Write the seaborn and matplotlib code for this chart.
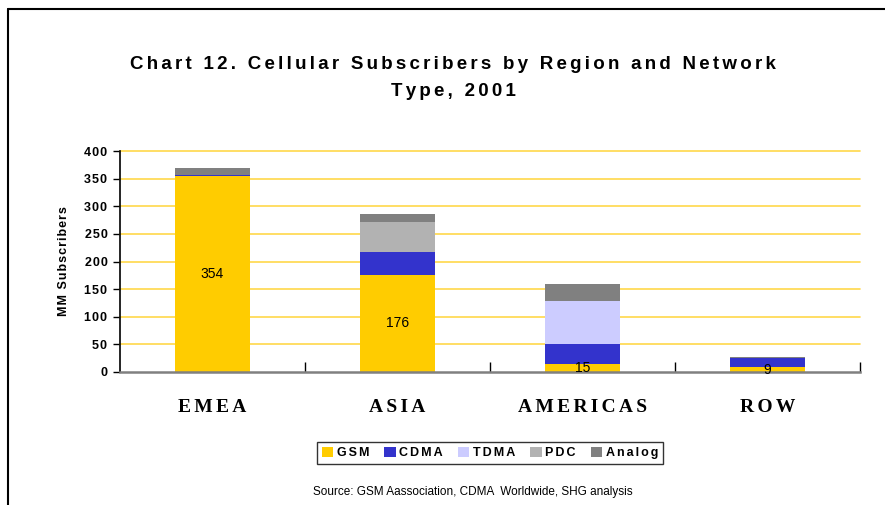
import numpy as np
import pandas as pd
import matplotlib
matplotlib.use("Agg")
import matplotlib.pyplot as plt
from matplotlib.lines import Line2D
from matplotlib.patches import Patch
import seaborn as sns

# data (MM subscribers, 2001)
regions = ["EMEA", "ASIA", "AMERICAS", "ROW"]
networks = ["GSM", "CDMA", "TDMA", "PDC", "Analog"]
gsm = [354, 176, 15, 9]
cdma = [2, 41, 35, 17]
tdma = [0, 0, 79, 0]
pdc = [0, 55, 0, 0]
analog = [14, 14, 30, 1]
colors = ["#FFCC00", "#3333CC", "#CCCCFF", "#B2B2B2", "#808080"]

df = pd.DataFrame({"region": regions, "GSM": gsm, "CDMA": cdma,
                   "TDMA": tdma, "PDC": pdc, "Analog": analog})
cum = df[networks].cumsum(axis=1)


def spaced(s, n=1):
    # fake letter spacing (the original uses tracked-out text)
    return ("\u200a" * n).join(s)


sns.set_style("white")
plt.rcParams["font.family"] = ["Liberation Sans", "DejaVu Sans"]
plt.rcParams["text.color"] = "black"
plt.rcParams["axes.labelcolor"] = "black"
plt.rcParams["xtick.color"] = "black"
plt.rcParams["ytick.color"] = "black"

fig = plt.figure(figsize=(8.85, 5.05), dpi=100)
ax = fig.add_axes([120 / 885, 1 - 372 / 505, 740 / 885, 221 / 505])

# stacked bars: draw cumulative totals from the top layer down
for net, col in reversed(list(zip(networks, colors))):
    sns.barplot(x=df["region"], y=cum[net], color=col, width=0.405,
                order=regions, ax=ax, saturation=1, zorder=3,
                edgecolor="none", linewidth=0)

# GSM value labels in the middle of the yellow segment
for i, v in enumerate(gsm):
    ax.text(i, v / 2, str(v), ha="center", va="center", fontsize=10, zorder=5)

ax.set_ylim(0, 400)
ax.set_xlim(-0.5, 3.5)
yt = list(range(0, 401, 50))
ax.set_yticks(yt)
ax.set_yticklabels([spaced(str(t)) for t in yt], fontweight="bold", fontsize=9)
for t in yt[1:]:
    ax.axhline(t, color="#FFD84A", linewidth=1.2, zorder=1, clip_on=False)
ax.grid(False)
ax.tick_params(axis="y", which="major", left=True, length=5, width=1, pad=4)
ax.set_xticks(range(len(regions)))
ax.set_xticklabels([spaced(r, 2) for r in regions], fontfamily=["Liberation Serif", "DejaVu Serif"],
                   fontweight="bold", fontsize=14)
ax.tick_params(axis="x", which="major", bottom=False, pad=16)
ax.set_xticks([0.5, 1.5, 2.5, 3.5], minor=True)
ax.tick_params(axis="x", which="minor", bottom=True, direction="in", length=7, width=1)
ax.set_xlabel("")
ax.set_ylabel(spaced("MM Subscribers"), fontsize=9, fontweight="bold", labelpad=10)

for s in ["top", "right"]:
    ax.spines[s].set_visible(False)
ax.spines["left"].set_color("black")
ax.spines["left"].set_linewidth(1.2)
ax.spines["bottom"].set_color("#808080")
ax.spines["bottom"].set_linewidth(1.8)
ax.spines["bottom"].set_zorder(4)

fig.text(453 / 885, 1 - 78 / 505,
         spaced("Chart 12. Cellular Subscribers by Region and Network", 2) + "\n" + spaced("Type, 2001", 2),
         ha="center", va="center", fontsize=13.5, fontweight="bold", linespacing=1.75)

handles = [Patch(facecolor=c, edgecolor="none", label=spaced(n, 2)) for n, c in zip(networks, colors)]
leg = fig.legend(handles=handles, loc="center", bbox_to_anchor=(490 / 885, 1 - 453 / 505),
                 ncol=5, frameon=True, fancybox=False, handlelength=0.9, handleheight=0.9,
                 handletextpad=0.3, columnspacing=1.2, borderpad=0.4,
                 prop={"weight": "bold", "size": 9})
leg.get_frame().set_edgecolor("black")
leg.get_frame().set_linewidth(1)

fig.text(473 / 885, 1 - 492 / 505, "Source: GSM Aassociation, CDMA  Worldwide, SHG analysis",
         ha="center", va="center", fontsize=8.5)

# outer frame (cut by the right and bottom image edges)
fig.add_artist(Line2D([8 / 885, 1.0], [1 - 8.5 / 505] * 2, color="black", linewidth=1.5))
fig.add_artist(Line2D([8 / 885] * 2, [0.0, 1 - 8.5 / 505], color="black", linewidth=1.5))

fig.savefig("out.png", dpi=100)
